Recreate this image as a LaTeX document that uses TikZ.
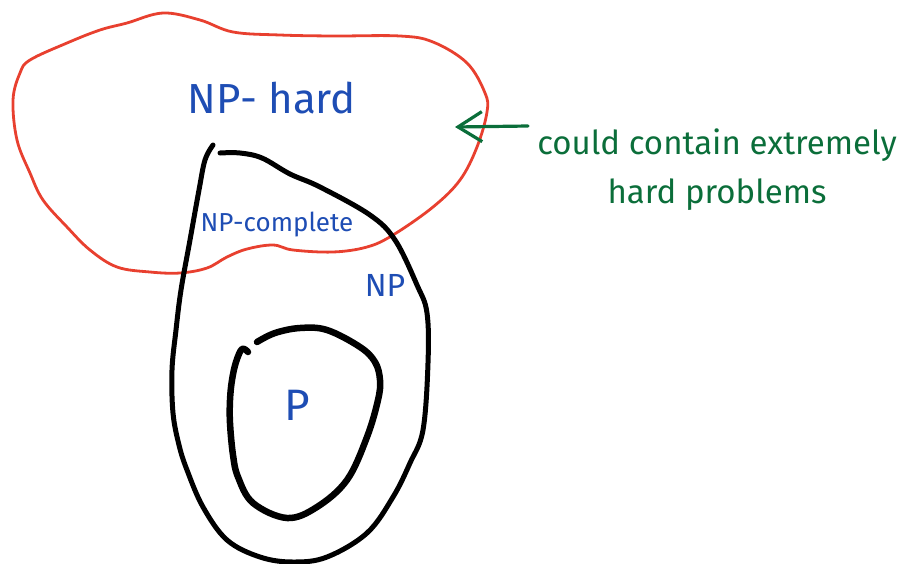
\documentclass[tikz,border=0pt]{standalone}
\usepackage{fontspec}
\setmainfont{Fira Sans}
\usetikzlibrary{arrows.meta}

\definecolor{hardred}{HTML}{E8402F}
\definecolor{inkblue}{HTML}{1E4DB4}
\definecolor{inkgreen}{HTML}{0B6E3A}

\begin{document}
\begin{tikzpicture}[x=1pt, y=-1pt, line cap=round, line join=round,
    redline/.style={draw=hardred, line width=2.8pt},
    npline/.style={draw=black, line width=5pt},
    pline/.style={draw=black, line width=6.5pt},
    arrowline/.style={draw=inkgreen, line width=3.2pt,
      -{Straight Barb[length=24pt, width=30pt, line width=3.2pt]}},
    bluelabel/.style={text=inkblue, inner sep=0pt},
    note/.style={text=inkgreen, inner sep=0pt, font=\fontsize{33}{36}\selectfont}]
  \useasboundingbox (0,0) rectangle (907,563);

  % NP-hard region
  \draw[redline] plot[smooth cycle, tension=0.6] coordinates {
    (163,13) (200,20) (233,32) (280,35) (333,36) (400,36) (433,42)
    (467,63) (485,93) (487,112) (477,147) (460,180) (433,207) (393,235)
    (367,247) (333,252) (293,250) (273,245) (247,249) (227,257) (207,268)
    (180,273) (150,272) (117,267) (90,250) (67,227) (43,200) (30,173)
    (17,140) (13,100) (20,73) (30,60) (67,43) (100,30) (127,23)};

  % NP region
  \draw[npline] plot[smooth, tension=0.6] coordinates {
    (213,145) (205,160) (199,190) (190,240) (181,290) (176,330) (172,370)
    (173,413) (179,445) (187,470) (203,507) (227,540) (260,557) (293,562)
    (327,557) (367,533) (393,497) (410,463) (423,430) (428,363) (427,313)
    (417,285) (395,240) (370,215) (320,187) (290,174) (262,158) (240,153)
    (220,153)};

  % P region
  \draw[pline] plot[smooth, tension=0.6] coordinates {
    (248,352) (242,349) (236,362) (232,380) (230,400) (230,423) (233,455)
    (238,477) (253,503) (287,518) (317,507) (347,480) (367,437) (378,400)
    (380,380) (375,362) (360,347) (327,330) (300,328) (275,333) (257,342)};

  % labels
  \node[bluelabel, font=\fontsize{42}{46}\selectfont] (nphard) at (272,98) {NP- hard};
  \node[bluelabel, font=\fontsize{26}{29}\selectfont] (npc) at (277,225) {NP-complete};
  \node[bluelabel, font=\fontsize{32}{36}\selectfont] (np) at (385,285) {NP};
  \node[bluelabel, font=\fontsize{44}{48}\selectfont] (p) at (297,405) {P};

  % note with arrow
  \node[note] (note1) at (717,145) {could contain extremely};
  \node[note] (note2) at (717,195) {hard problems};
  \coordinate (tail) at (528,126);
  \coordinate (tip) at (455,127);
  \draw[arrowline] (tail) -- (tip);
\end{tikzpicture}
\end{document}
